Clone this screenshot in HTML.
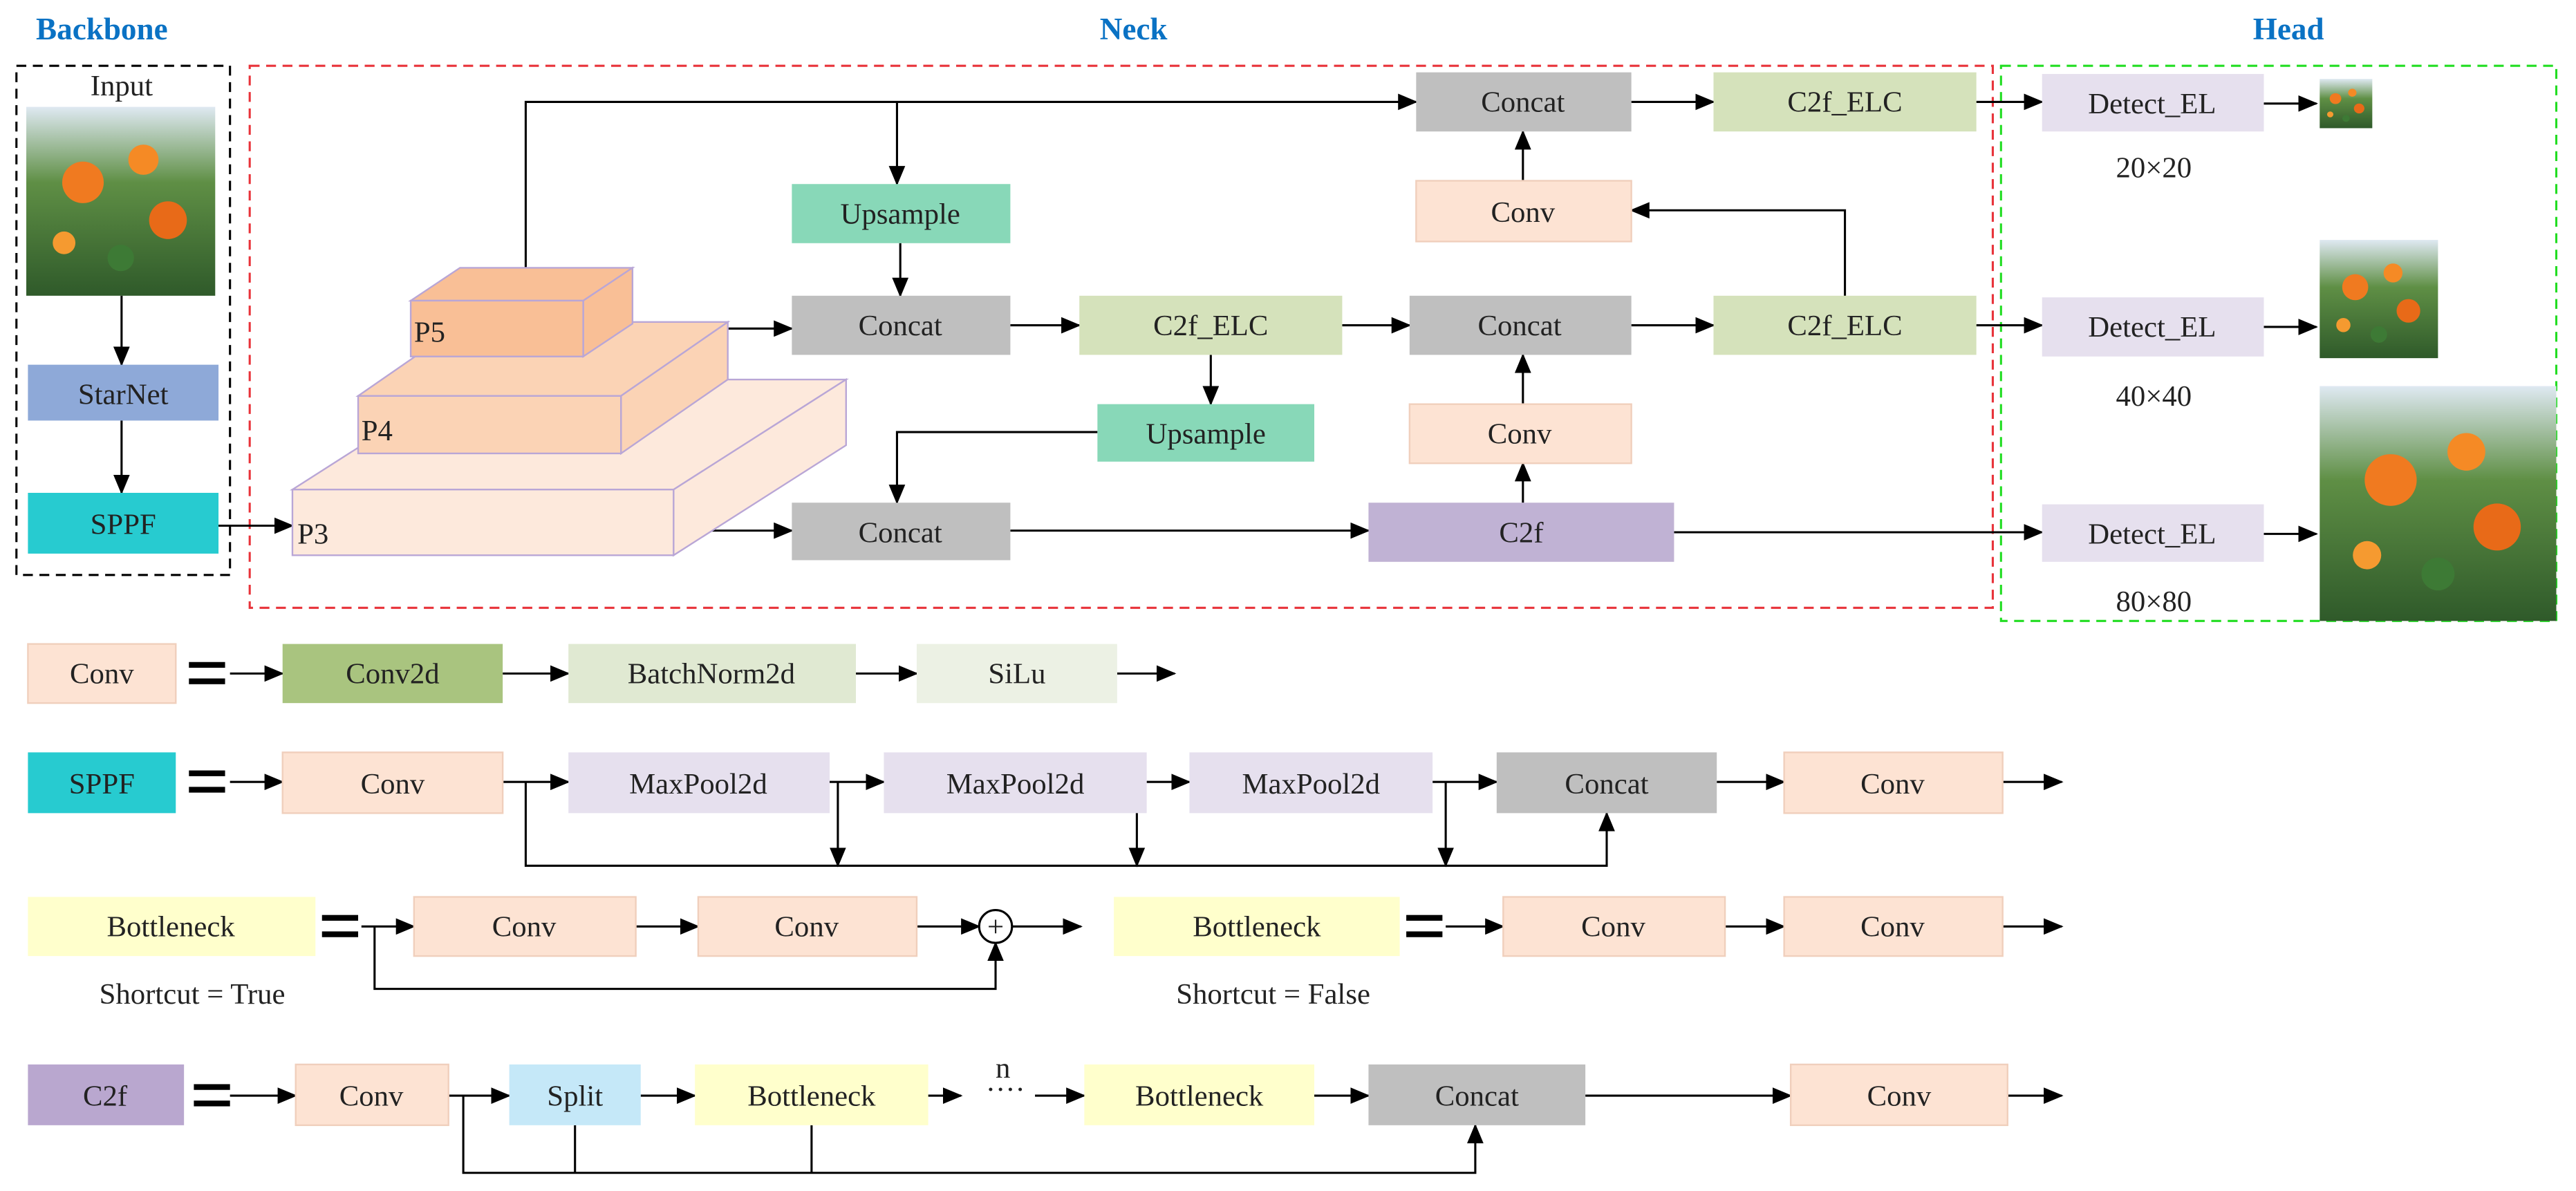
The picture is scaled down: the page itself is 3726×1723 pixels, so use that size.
<!DOCTYPE html>
<html><head><meta charset="utf-8"><style>
html,body{margin:0;padding:0;background:#fff}
svg{display:block}
text{font-family:"Liberation Serif",serif;font-size:18px;fill:#222}
.t{font-family:"Liberation Serif",serif;font-weight:bold;fill:#0a72c4;font-size:19px}
</style></head><body>
<svg width="3726" height="1723" viewBox="0 0 1568 725" xmlns="http://www.w3.org/2000/svg">
<defs>
<marker id="a" markerWidth="12" markerHeight="10" refX="11" refY="5" orient="auto" markerUnits="userSpaceOnUse"><path d="M0,0 L12,5 L0,10 z" fill="#000"/></marker>
<linearGradient id="g" x1="0" y1="0" x2="0" y2="1"><stop offset="0" stop-color="#dfe9f2"/><stop offset="0.4" stop-color="#5f8f45"/><stop offset="1" stop-color="#2f5a2a"/></linearGradient>
<g id="pic"><rect width="100" height="100" fill="url(#g)"/><circle cx="30" cy="40" r="11" fill="#f07a20"/><circle cx="62" cy="28" r="8" fill="#f58a25"/><circle cx="75" cy="60" r="10" fill="#e86a18"/><circle cx="20" cy="72" r="6" fill="#f59a30"/><circle cx="50" cy="80" r="7" fill="#3d7a35"/></g>
</defs>
<rect width="1568" height="725" fill="#fff"/>
<text class="t" x="62" y="24" text-anchor="middle">Backbone</text>
<text class="t" x="690" y="24" text-anchor="middle">Neck</text>
<text class="t" x="1393" y="24" text-anchor="middle">Head</text>
<rect x="10" y="40" width="130" height="310" fill="none" stroke="#000" stroke-dasharray="6,4" stroke-width="1.3"/>
<rect x="152" y="40" width="1061" height="330" fill="none" stroke="#e8333a" stroke-dasharray="6,4" stroke-width="1.3"/>
<rect x="1218" y="40" width="338" height="338" fill="none" stroke="#22dd22" stroke-dasharray="6,4" stroke-width="1.3"/>
<text x="74" y="58" text-anchor="middle">Input</text>
<use href="#pic" transform="translate(16,65) scale(1.15,1.15)"/>
<use href="#pic" transform="translate(1412,48) scale(0.32,0.30)"/>
<use href="#pic" transform="translate(1412,146) scale(0.72,0.72)"/>
<use href="#pic" transform="translate(1412,235) scale(1.44,1.43)"/>
<g stroke="#000" stroke-width="1.3" fill="none" marker-end="url(#a)">
<path d="M74,180 V222"/><path d="M74,256 V300"/><path d="M133,320 H178"/>
<path d="M320,163 V62 H862"/><path d="M546,62 V112"/><path d="M548,148 V180"/>
<path d="M443,200 H482"/><path d="M615,198 H657"/><path d="M817,198 H858"/>
<path d="M737,216 V246"/><path d="M668,263 H546 V306"/><path d="M410,323 H482"/>
<path d="M615,323 H833"/><path d="M1019,324 H1243"/><path d="M927,306 V282"/><path d="M927,246 V216"/>
<path d="M993,198 H1043"/><path d="M1203,198 H1243"/><path d="M1123,180 V128 H993"/><path d="M927,110 V80"/>
<path d="M993,62 H1043"/><path d="M1203,62 H1243"/>
<path d="M1378,63 H1410"/><path d="M1378,199 H1410"/><path d="M1378,325 H1410"/>
<path d="M140,410 H172"/><path d="M306,410 H346"/><path d="M521,410 H558"/><path d="M680,410 H715"/>
<path d="M140,476 H172"/><path d="M306,476 H346"/><path d="M505,476 H538"/><path d="M698,476 H724"/><path d="M872,476 H911"/><path d="M1045,476 H1086"/><path d="M1219,476 H1255"/>
<path d="M510,476 V527"/><path d="M692,476 V527"/><path d="M880,476 V527"/><path d="M320,476 V527 H978 V495"/>
<path d="M220,564 H252"/><path d="M387,564 H425"/><path d="M558,564 H596"/><path d="M616,564 H658"/><path d="M228,564 V602 H606 V574"/>
<path d="M880,564 H915"/><path d="M1050,564 H1086"/><path d="M1219,564 H1255"/>
<path d="M140,667 H180"/><path d="M273,667 H310"/><path d="M390,667 H423"/><path d="M565,667 H585"/><path d="M630,667 H660"/><path d="M800,667 H833"/><path d="M965,667 H1090"/><path d="M1222,667 H1255"/>
<path d="M282,667 V714 H898 V685"/>
</g>
<g stroke="#000" stroke-width="1.3" fill="none"><path d="M350,685 V714"/><path d="M494,685 V714"/></g>
<text x="600" y="669" font-size="20">····</text><text x="606" y="656" font-size="15">n</text>
<circle cx="606" cy="564" r="10" fill="#fff" stroke="#000" stroke-width="1.3"/>
<text x="606" y="570" text-anchor="middle" font-size="18">+</text>
<g stroke="#b9a6d6" stroke-width="1">
<path d="M178,298 L283,231 H515 L410,298 Z" fill="#fde9dc"/><path d="M410,298 L515,231 V271 L410,338 Z" fill="#fde9dc"/><rect x="178" y="298" width="232" height="40" fill="#fde9dc"/>
<path d="M218,241 L283,196 H443 L378,241 Z" fill="#fbd3b5"/><path d="M378,241 L443,196 V231 L378,276 Z" fill="#fbd3b5"/><rect x="218" y="241" width="160" height="35" fill="#fbd3b5"/>
<path d="M250,183 L280,163 H385 L355,183 Z" fill="#f9bf96"/><path d="M355,183 L385,163 V197 L355,217 Z" fill="#f9bf96"/><rect x="250" y="183" width="105" height="34" fill="#f9bf96"/>
</g>
<text x="252" y="208">P5</text><text x="220" y="268">P4</text><text x="181" y="331">P3</text>
<g font-size="18">
<rect x="17" y="222" width="116" height="34" fill="#8ea9d8"/><text x="75" y="246" text-anchor="middle">StarNet</text>
<rect x="17" y="300" width="116" height="37" fill="#27cbd0"/><text x="75" y="325" text-anchor="middle">SPPF</text>
<rect x="862" y="44" width="131" height="36" fill="#bfbfbf"/><text x="927" y="68" text-anchor="middle">Concat</text>
<rect x="1043" y="44" width="160" height="36" fill="#d5e2bb"/><text x="1123" y="68" text-anchor="middle">C2f_ELC</text>
<rect x="1243" y="45" width="135" height="35" fill="#e6e0ee"/><text x="1310" y="69" text-anchor="middle">Detect_EL</text>
<text x="1311" y="108" text-anchor="middle">20×20</text>
<rect x="482" y="112" width="133" height="36" fill="#88d8b8"/><text x="548" y="136" text-anchor="middle">Upsample</text>
<rect x="862" y="110" width="131" height="37" fill="#fde3d3" stroke="#f0cfbc"/><text x="927" y="135" text-anchor="middle">Conv</text>
<rect x="482" y="180" width="133" height="36" fill="#bfbfbf"/><text x="548" y="204" text-anchor="middle">Concat</text>
<rect x="657" y="180" width="160" height="36" fill="#d5e2bb"/><text x="737" y="204" text-anchor="middle">C2f_ELC</text>
<rect x="858" y="180" width="135" height="36" fill="#bfbfbf"/><text x="925" y="204" text-anchor="middle">Concat</text>
<rect x="1043" y="180" width="160" height="36" fill="#d5e2bb"/><text x="1123" y="204" text-anchor="middle">C2f_ELC</text>
<rect x="1243" y="181" width="135" height="36" fill="#e6e0ee"/><text x="1310" y="205" text-anchor="middle">Detect_EL</text>
<text x="1311" y="247" text-anchor="middle">40×40</text>
<rect x="668" y="246" width="132" height="35" fill="#88d8b8"/><text x="734" y="270" text-anchor="middle">Upsample</text>
<rect x="858" y="246" width="135" height="36" fill="#fde3d3" stroke="#f0cfbc"/><text x="925" y="270" text-anchor="middle">Conv</text>
<rect x="482" y="306" width="133" height="35" fill="#bfbfbf"/><text x="548" y="330" text-anchor="middle">Concat</text>
<rect x="833" y="306" width="186" height="36" fill="#c0b2d4"/><text x="926" y="330" text-anchor="middle">C2f</text>
<rect x="1243" y="307" width="135" height="35" fill="#e6e0ee"/><text x="1310" y="331" text-anchor="middle">Detect_EL</text>
<text x="1311" y="372" text-anchor="middle">80×80</text>
<rect x="17" y="392" width="90" height="36" fill="#fde3d3" stroke="#f0cfbc"/><text x="62" y="416" text-anchor="middle">Conv</text>
<rect x="172" y="392" width="134" height="36" fill="#a9c47f"/><text x="239" y="416" text-anchor="middle">Conv2d</text>
<rect x="346" y="392" width="175" height="36" fill="#e0e9d2"/><text x="433" y="416" text-anchor="middle">BatchNorm2d</text>
<rect x="558" y="392" width="122" height="36" fill="#ecf1e4"/><text x="619" y="416" text-anchor="middle">SiLu</text>
<rect x="17" y="458" width="90" height="37" fill="#27cbd0"/><text x="62" y="483" text-anchor="middle">SPPF</text>
<rect x="172" y="458" width="134" height="37" fill="#fde3d3" stroke="#f0cfbc"/><text x="239" y="483" text-anchor="middle">Conv</text>
<rect x="346" y="458" width="159" height="37" fill="#e6e0ee"/><text x="425" y="483" text-anchor="middle">MaxPool2d</text>
<rect x="538" y="458" width="160" height="37" fill="#e6e0ee"/><text x="618" y="483" text-anchor="middle">MaxPool2d</text>
<rect x="724" y="458" width="148" height="37" fill="#e6e0ee"/><text x="798" y="483" text-anchor="middle">MaxPool2d</text>
<rect x="911" y="458" width="134" height="37" fill="#bfbfbf"/><text x="978" y="483" text-anchor="middle">Concat</text>
<rect x="1086" y="458" width="133" height="37" fill="#fde3d3" stroke="#f0cfbc"/><text x="1152" y="483" text-anchor="middle">Conv</text>
<rect x="17" y="546" width="175" height="36" fill="#ffffcc"/><text x="104" y="570" text-anchor="middle">Bottleneck</text>
<rect x="252" y="546" width="135" height="36" fill="#fde3d3" stroke="#f0cfbc"/><text x="319" y="570" text-anchor="middle">Conv</text>
<rect x="425" y="546" width="133" height="36" fill="#fde3d3" stroke="#f0cfbc"/><text x="491" y="570" text-anchor="middle">Conv</text>
<text x="117" y="611" text-anchor="middle">Shortcut = True</text>
<rect x="678" y="546" width="174" height="36" fill="#ffffcc"/><text x="765" y="570" text-anchor="middle">Bottleneck</text>
<rect x="915" y="546" width="135" height="36" fill="#fde3d3" stroke="#f0cfbc"/><text x="982" y="570" text-anchor="middle">Conv</text>
<rect x="1086" y="546" width="133" height="36" fill="#fde3d3" stroke="#f0cfbc"/><text x="1152" y="570" text-anchor="middle">Conv</text>
<text x="775" y="611" text-anchor="middle">Shortcut = False</text>
<rect x="17" y="648" width="95" height="37" fill="#b9a7cf"/><text x="64" y="673" text-anchor="middle">C2f</text>
<rect x="180" y="648" width="93" height="37" fill="#fde3d3" stroke="#f0cfbc"/><text x="226" y="673" text-anchor="middle">Conv</text>
<rect x="310" y="648" width="80" height="37" fill="#c5e8f8"/><text x="350" y="673" text-anchor="middle">Split</text>
<rect x="423" y="648" width="142" height="37" fill="#ffffcc"/><text x="494" y="673" text-anchor="middle">Bottleneck</text>
<rect x="660" y="648" width="140" height="37" fill="#ffffcc"/><text x="730" y="673" text-anchor="middle">Bottleneck</text>
<rect x="833" y="648" width="132" height="37" fill="#bfbfbf"/><text x="899" y="673" text-anchor="middle">Concat</text>
<rect x="1090" y="648" width="132" height="37" fill="#fde3d3" stroke="#f0cfbc"/><text x="1156" y="673" text-anchor="middle">Conv</text>
</g>
<g fill="#000">
<rect x="115" y="403" width="22" height="3.5"/><rect x="115" y="413" width="22" height="3.5"/>
<rect x="115" y="469" width="22" height="3.5"/><rect x="115" y="479" width="22" height="3.5"/>
<rect x="196" y="557" width="22" height="3.5"/><rect x="196" y="567" width="22" height="3.5"/>
<rect x="856" y="557" width="22" height="3.5"/><rect x="856" y="567" width="22" height="3.5"/>
<rect x="118" y="660" width="22" height="3.5"/><rect x="118" y="670" width="22" height="3.5"/>
</g>
</svg>
</body></html>
